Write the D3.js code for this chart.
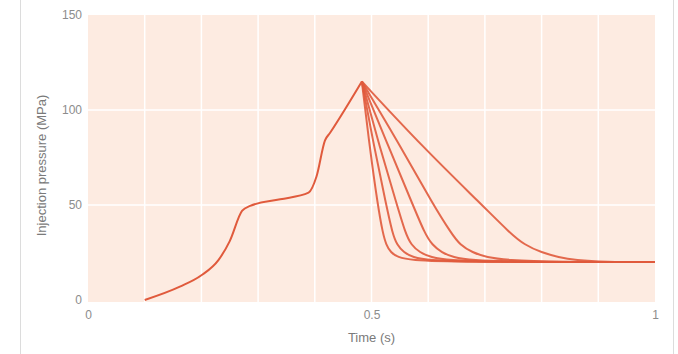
<!DOCTYPE html>
<html>
<head>
<meta charset="utf-8">
<script src="https://cdn.jsdelivr.net/npm/d3@7"></script>
<style>
  body { margin: 0; background: #fff; }
  text { font-family: 'Liberation Sans', Arial, sans-serif; }
</style>
</head>
<body>
<div id="container"></div>
<script>
// rising part of the pressure trace (shared by every run)
const riseTime = [0.1, 0.162, 0.2, 0.23, 0.25, 0.272, 0.286, 0.339, 0.389, 0.403, 0.418, 0.427, 0.483];
const risePressure = [0, 7, 13, 21, 31, 47, 49.5, 53, 56.5, 65, 84, 88, 115];

// decay branches: pressure levels shared, time at each level per run
const decayPressure = [115, 80, 50, 35, 29, 25, 22.5, 21, 20, 20];
const decayTimes = [
  [0.483, 0.497, 0.511, 0.520, 0.526, 0.534, 0.546, 0.570, 0.640, 1],
  [0.483, 0.505, 0.526, 0.537, 0.545, 0.557, 0.573, 0.600, 0.680, 1],
  [0.483, 0.515, 0.545, 0.560, 0.570, 0.585, 0.605, 0.635, 0.720, 1],
  [0.483, 0.531, 0.573, 0.594, 0.607, 0.624, 0.644, 0.675, 0.760, 1],
  [0.483, 0.553, 0.609, 0.641, 0.656, 0.678, 0.703, 0.740, 0.820, 1],
  [0.483, 0.592, 0.695, 0.745, 0.770, 0.800, 0.830, 0.860, 0.910, 1]
];

const xTicks = [0, 0.5, 1];
const yTicks = [0, 50, 100, 150];
const xGrid = [0.1, 0.2, 0.3, 0.4, 0.5, 0.6, 0.7, 0.8, 0.9];
const yGrid = [50, 100];

const w = 678;
const h = 354;
const lineColor = '#e05a3c';

const x = d3.scaleLinear().domain([0, 1]).range([88, 655]);
const y = d3.scaleLinear().domain([0, 150]).range([300, 15]);

const svg = d3.select('#container')
  .append('svg')
  .attr('width', w)
  .attr('height', h);

// card frame
svg.append('rect')
  .attr('x', 20.5).attr('y', -2)
  .attr('width', 653).attr('height', h + 4)
  .attr('fill', 'none')
  .attr('stroke', '#dcdcdc');

// plot background
svg.append('rect')
  .attr('x', x(0)).attr('y', y(150))
  .attr('width', x(1) - x(0))
  .attr('height', y(0) + 2 - y(150))
  .attr('fill', '#fdebe1');

svg.append('g')
  .selectAll('line')
  .data(xGrid)
  .join('line')
  .attr('x1', d => x(d)).attr('x2', d => x(d))
  .attr('y1', y(150)).attr('y2', y(0) + 2)
  .attr('stroke', '#fff')
  .attr('stroke-width', 1.5);

svg.append('g')
  .selectAll('line')
  .data(yGrid)
  .join('line')
  .attr('x1', x(0)).attr('x2', x(1))
  .attr('y1', d => y(d)).attr('y2', d => y(d))
  .attr('stroke', '#fff')
  .attr('stroke-width', 1.5);

// axes (labels only)
const xAxis = d3.axisBottom(x).tickValues(xTicks).tickFormat(d3.format('')).tickSize(0).tickPadding(8);
svg.append('g')
  .attr('transform', `translate(0,${y(0) + 2})`)
  .call(xAxis)
  .call(g => g.select('.domain').remove())
  .selectAll('text')
  .attr('fill', '#8c8c8c')
  .style('font-size', '12px');

const yAxis = d3.axisLeft(y).tickValues(yTicks).tickSize(0).tickPadding(6);
svg.append('g')
  .attr('transform', `translate(${x(0)},0)`)
  .call(yAxis)
  .call(g => g.select('.domain').remove())
  .selectAll('text')
  .attr('fill', '#8c8c8c')
  .style('font-size', '12px');

svg.append('text')
  .attr('x', x(0.5))
  .attr('y', 342)
  .attr('text-anchor', 'middle')
  .attr('fill', '#7a7a7a')
  .style('font-size', '13px')
  .text('Time (s)');

svg.append('text')
  .attr('transform', `translate(46,${(y(0) + y(150)) / 2 + 8}) rotate(-90)`)
  .attr('text-anchor', 'middle')
  .attr('fill', '#7a7a7a')
  .style('font-size', '13px')
  .text('Injection pressure (MPa)');

// curves
const riseLine = d3.line()
  .x(d => x(d[0]))
  .y(d => y(d[1]))
  .curve(d3.curveMonotoneX);

const decayLine = d3.line()
  .x(d => x(d[0]))
  .y(d => y(d[1]))
  .curve(d3.curveBasis);

const riseData = riseTime.map((t, i) => [t, risePressure[i]]);

svg.append('g')
  .selectAll('path')
  .data(decayTimes)
  .join('path')
  .attr('d', ts => decayLine(ts.map((t, i) => [t, decayPressure[i]])))
  .attr('fill', 'none')
  .attr('stroke', lineColor)
  .attr('stroke-width', 2)
  .attr('stroke-opacity', 0.9);

svg.append('path')
  .attr('d', riseLine(riseData))
  .attr('fill', 'none')
  .attr('stroke', lineColor)
  .attr('stroke-width', 2)
  .attr('stroke-linejoin', 'round');
</script>
</body>
</html>
